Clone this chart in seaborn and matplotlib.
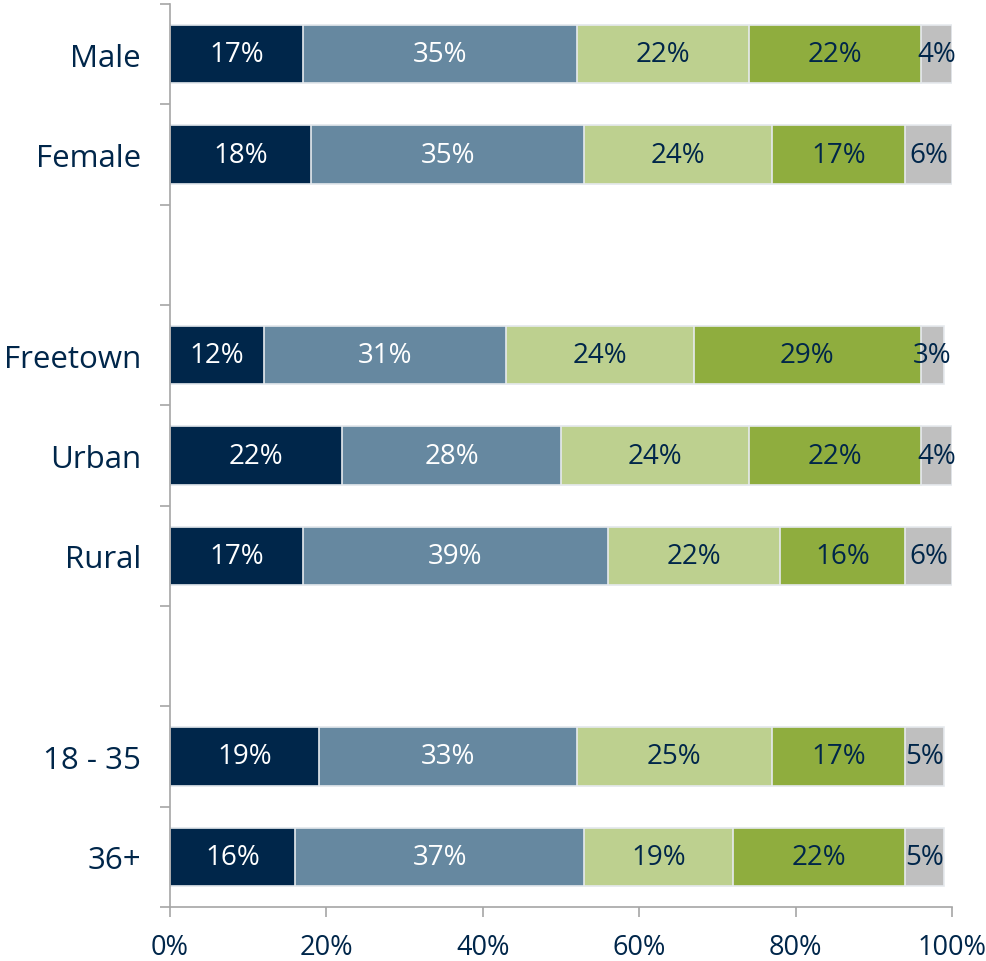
import pandas as pd
import matplotlib
matplotlib.use("Agg")
import matplotlib.pyplot as plt
import seaborn as sns

# Datos
grupos = ["Male", "Female", "", "Freetown", "Urban", "Rural", " ", "18 - 35", "36+"]
filas = ["Male", "Female", "Freetown", "Urban", "Rural", "18 - 35", "36+"]
seg1 = [17, 18, 12, 22, 17, 19, 16]
seg2 = [35, 35, 31, 28, 39, 33, 37]
seg3 = [22, 24, 24, 24, 22, 25, 19]
seg4 = [22, 17, 29, 22, 16, 17, 22]
seg5 = [4, 6, 3, 4, 6, 5, 5]

colores = ["#00264A", "#6688A0", "#BDD08F", "#8FAD3E", "#BFBFBF"]
color_texto = ["white", "white", "#00264A", "#00264A", "#00264A"]
navy = "#00264A"

sns.set_style("white")
plt.rcParams["font.family"] = ["Open Sans", "DejaVu Sans"]

df = pd.DataFrame({"grupo": filas, "s1": seg1, "s2": seg2, "s3": seg3, "s4": seg4, "s5": seg5})
cols = ["s1", "s2", "s3", "s4", "s5"]
acum = df[cols].cumsum(axis=1)

fig = plt.figure(figsize=(9.86, 9.62), dpi=100)
ax = fig.add_axes([170 / 986, 1 - 908 / 962, 782 / 986, 903 / 962])

# Barras acumuladas, de la mayor a la menor para que se superpongan
for i in range(len(cols) - 1, -1, -1):
    sns.barplot(x=acum[cols[i]], y=df["grupo"], order=grupos, orient="h",
                color=colores[i], saturation=1, width=0.58,
                edgecolor="#E6EAEE", linewidth=1.2, ax=ax)

# Etiquetas de porcentaje
pos = {g: k for k, g in enumerate(grupos)}
for _, fila in df.iterrows():
    inicio = 0
    for i, c in enumerate(cols):
        v = fila[c]
        ax.text(inicio + v / 2, pos[fila["grupo"]], f"{v}%", ha="center", va="center",
                color=color_texto[i], fontsize=20)
        inicio += v

ax.set_xlim(0, 100)
ax.set_ylim(len(grupos) - 0.5, -0.5)
ax.set_xticks(range(0, 101, 20))
ax.set_xticklabels([f"{t}%" for t in range(0, 101, 20)], fontsize=19.5, color=navy)
ax.set_yticks(range(len(grupos)))
ax.set_yticklabels(grupos, fontsize=22.5, color=navy)
ax.set_yticks([k - 0.5 for k in range(len(grupos) + 1)], minor=True)
ax.tick_params(axis="y", which="major", length=0, pad=21)
ax.tick_params(axis="y", which="minor", length=7, width=1.2, color="#A6A6A6", left=True)
ax.tick_params(axis="x", length=7, width=1.2, color="#A6A6A6", pad=12, bottom=True)
ax.set_xlabel("")
ax.set_ylabel("")

sns.despine(ax=ax, top=True, right=True)
for lado in ["left", "bottom"]:
    ax.spines[lado].set_color("#A6A6A6")
    ax.spines[lado].set_linewidth(1.2)

plt.savefig("out.png", dpi=100)
plt.close()
